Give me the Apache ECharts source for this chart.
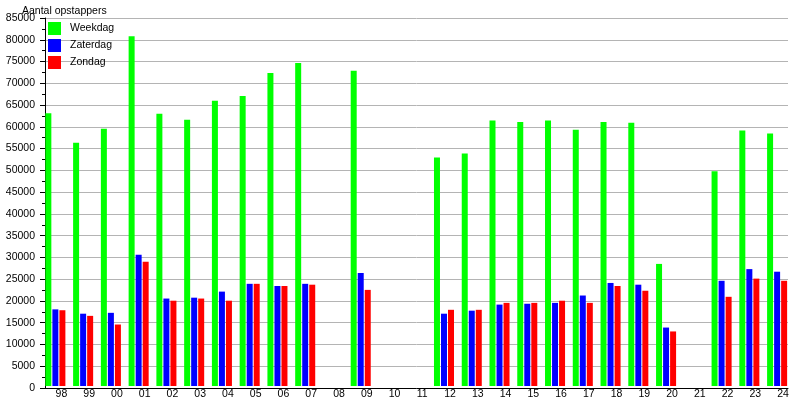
<!DOCTYPE html>
<html>
<head>
<meta charset="utf-8">
<script src="https://cdn.jsdelivr.net/npm/echarts@6/dist/echarts.min.js"></script>
<style>
  html, body { margin: 0; padding: 0; background: #fff; }
  #chart { width: 807px; height: 400px; }
</style>
</head>
<body>
<div id="chart"></div>
<script>
// jaren (categorieen) en waarden per dagsoort
var years = ['98','99','00','01','02','03','04','05','06','07','08','09','10','11','12','13','14','15','16','17','18','19','20','21','22','23','24'];
var weekdag  = [63000,56200,59400,80800,62900,61500,65900,67000,72300,74600,null,72800,null,null,52800,53700,61300,61000,61300,59200,61000,60800,28200,null,49600,59000,58300];
var zaterdag = [17700,16700,16900,30300,20200,20400,21800,23600,23100,23600,null,26100,null,null,16700,17400,18800,19000,19200,20900,23800,23400,13500,null,24300,27000,26400];
var zondag   = [17500,16200,14200,28700,19700,20200,19700,23600,23100,23400,null,22200,null,null,17600,17600,19200,19200,19700,19200,23100,22000,12600,null,20600,24800,24300];
var yMin = 0, yMax = 85000, yStep = 5000;

var font = 'Liberation Sans, Arial, sans-serif';
var chart = echarts.init(document.getElementById('chart'));

var option = {
  animation: false,
  backgroundColor: '#fff',
  textStyle: { fontFamily: font },
  title: {
    text: 'Aantal opstappers',
    left: 17, top: 1,
    textStyle: { fontSize: 10.5, fontWeight: 'normal', color: '#000', fontFamily: font }
  },
  legend: {
    data: ['Weekdag', 'Zaterdag', 'Zondag'],
    orient: 'vertical',
    left: 43, top: 17,
    itemWidth: 13, itemHeight: 13, itemGap: 4,
    icon: 'rect',
    textStyle: { fontSize: 10.5, color: '#000', fontFamily: font, padding: [0, 0, 0, 4] }
  },
  grid: [
    { left: 45, right: 19, top: 18, bottom: 12 },
    { left: 45, right: 12.5, top: 18, bottom: 12 }
  ],
  xAxis: [
    {
      gridIndex: 0, type: 'category', data: years,
      axisLine: { lineStyle: { color: '#000', width: 1 } },
      axisTick: { show: false },
      axisLabel: { show: false },
      splitLine: { show: false }
    },
    {
      gridIndex: 1, type: 'category', data: years,
      axisLine: { show: false },
      axisTick: { show: false },
      axisLabel: { fontSize: 10.5, color: '#000', fontFamily: font, margin: 3, padding: [0, 0, 0, 5], interval: 0 },
      splitLine: { show: false }
    }
  ],
  yAxis: [
    {
      gridIndex: 0, type: 'value', min: yMin, max: yMax, interval: yStep,
      axisLine: { show: true, lineStyle: { color: '#000' } },
      axisTick: { show: true, length: 5, lineStyle: { color: '#000' } },
      minorTick: { show: true, splitNumber: 2, length: 3, lineStyle: { color: '#000' } },
      axisLabel: { fontSize: 10.5, color: '#000', fontFamily: font, margin: 10,
        formatter: function (v) { return String(v); } },
      splitLine: { show: true, lineStyle: { color: '#b4b4b4', width: 1 } }
    },
    {
      gridIndex: 1, type: 'value', min: yMin, max: yMax, interval: yStep,
      show: false
    }
  ],
  series: [
    { name: 'Weekdag', type: 'bar', xAxisIndex: 1, yAxisIndex: 1, data: weekdag,
      barWidth: 6, barGap: '17%', itemStyle: { color: '#00ff00' } },
    { name: 'Zaterdag', type: 'bar', xAxisIndex: 1, yAxisIndex: 1, data: zaterdag,
      barWidth: 6, barGap: '17%', itemStyle: { color: '#0000ff' } },
    { name: 'Zondag', type: 'bar', xAxisIndex: 1, yAxisIndex: 1, data: zondag,
      barWidth: 6, barGap: '17%', itemStyle: { color: '#ff0000' } },
    // lege reeks: houdt de ruimte rechts van de drie staven vrij
    { name: 'spacer', type: 'bar', xAxisIndex: 1, yAxisIndex: 1, data: years.map(function () { return null; }),
      barWidth: 6, barGap: '17%', silent: true, itemStyle: { color: 'transparent' } }
  ]
};

chart.setOption(option);
</script>
</body>
</html>
